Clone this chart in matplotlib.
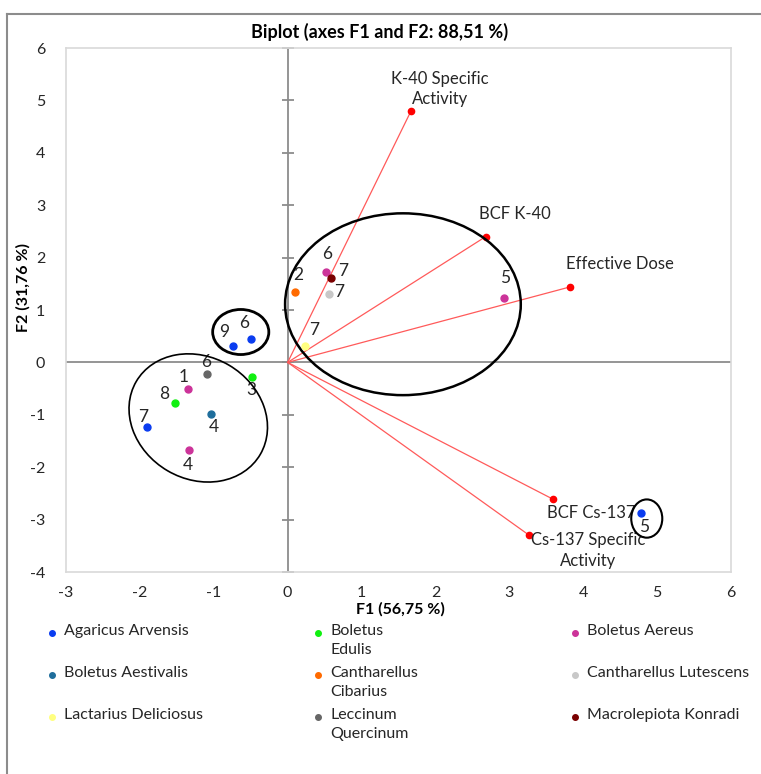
import numpy as np
import matplotlib.pyplot as plt
from matplotlib.patches import Ellipse
from matplotlib.lines import Line2D

plt.rcParams['font.family'] = ['Lato', 'DejaVu Sans']
plt.rcParams['axes.unicode_minus'] = False

# species (legend order) and their colours
species = ['Agaricus Arvensis', 'Boletus\nEdulis', 'Boletus Aereus',
           'Boletus Aestivalis', 'Cantharellus\nCibarius', 'Cantharellus Lutescens',
           'Lactarius Deliciosus', 'Leccinum\nQuercinum', 'Macrolepiota Konradi']
colors = ['#0A3CF0', '#10F010', '#CC3399',
          '#1F6E9C', '#FF6A00', '#C8C8C8',
          '#FFFF80', '#666666', '#7A0000']

# observations (F1, F2 scores)
obs_species = [0, 0, 0, 0, 1, 1, 2, 2, 2, 2, 3, 4, 5, 6, 7, 8]
obs_label = ['9', '6', '7', '5', '3', '8', '1', '4', '6', '5', '4', '2', '7', '7', '6', '7']
obs_f1 = [-0.74, -0.49, -1.91, 4.78, -0.48, -1.53, -1.35, -1.33, 0.52, 2.93,
          -1.04, 0.10, 0.56, 0.23, -1.09, 0.58]
obs_f2 = [0.32, 0.44, -1.24, -2.87, -0.28, -0.77, -0.50, -1.67, 1.72, 1.22,
          -0.99, 1.35, 1.30, 0.31, -0.22, 1.62]

# variables (loadings)
var_names = ['K-40 Specific\nActivity', 'BCF K-40', 'Effective Dose',
             'BCF Cs-137', 'Cs-137 Specific\nActivity']
var_f1 = [1.67, 2.68, 3.82, 3.59, 3.27]
var_f2 = [4.80, 2.40, 1.44, -2.61, -3.30]

# label offsets in pixels (layout only)
obs_offsets = [(-9, 14), (-7, 16), (-3, 10), (3, -14), (-1, -13), (-10, 9),
               (-4, 12), (-2, -15), (1, 18), (1, 20), (3, -13), (3, 17),
               (10, 2), (10, 16), (-1, 12), (13, 7)]
var_offsets = [(29, 22), (29, 23), (50, 23), (38, -14), (59, -15)]

W, H = 761, 774
fig = plt.figure(figsize=(W / 100, H / 100), dpi=100)
ax = fig.add_axes([66 / W, 1 - 572 / H, (731 - 66) / W, (572 - 48) / H])

ax.set_xlim(-3, 6)
ax.set_ylim(-4, 6)
for s in ax.spines.values():
    s.set_color('#D9D9D9')
    s.set_linewidth(1.2)

ax.set_xticks(np.arange(-3, 7))
ax.set_yticks(np.arange(-4, 7))
ax.tick_params(length=0, labelsize=11.5, colors='#262626')
ax.tick_params(axis='x', pad=10)
ax.tick_params(axis='y', pad=15)

# zero axes with cross ticks
ax.axhline(0, color='#8C8C8C', lw=1.3, zorder=1)
ax.axvline(0, color='#8C8C8C', lw=1.3, zorder=1)
yt = np.arange(-4, 7)
ax.plot(np.zeros(len(yt)), yt, ls='none', marker='_', ms=8, mew=1.3,
        color='#8C8C8C', clip_on=False, zorder=1)

# variable vectors
for x, y, name, off in zip(var_f1, var_f2, var_names, var_offsets):
    ax.plot([0, x], [0, y], color='#FF5A5A', lw=0.9, zorder=2)
    ax.plot(x, y, 'o', color='#FF0000', ms=4.5, zorder=3)
    ax.annotate(name, (x, y), xytext=off, textcoords='offset pixels',
                ha='center', va='center', fontsize=12, color='#262626',
                linespacing=1.35)

# observations
for sp, lab, x, y, off in zip(obs_species, obs_label, obs_f1, obs_f2, obs_offsets):
    ax.plot(x, y, 'o', color=colors[sp], ms=5, zorder=4)
    ax.annotate(lab, (x, y), xytext=off, textcoords='offset pixels',
                ha='center', va='center', fontsize=12.5, color='#262626')

# group ellipses
ax.add_patch(Ellipse((1.56, 1.11), 3.19, 3.47, fill=False, ec='black', lw=1.8, zorder=3))
ax.add_patch(Ellipse((-0.635, 0.58), 0.76, 0.86, fill=False, ec='black', lw=2, zorder=3))
ax.add_patch(Ellipse((-1.21, -1.06), 1.83, 2.48, angle=14, fill=False, ec='black', lw=1.2, zorder=3))
ax.add_patch(Ellipse((4.86, -2.98), 0.42, 0.73, fill=False, ec='black', lw=1.5, zorder=3))

# titles
fig.text(380 / W, 1 - 32 / H, 'Biplot (axes F1 and F2: 88,51 %)', ha='center', va='center',
         fontsize=13, fontweight='bold', color='black')
fig.text(400 / W, 1 - 609 / H, 'F1 (56,75 %)', ha='center', va='center',
         fontsize=11.5, fontweight='bold', color='black')
fig.text(23 / W, 1 - 288 / H, 'F2 (31,76 %)', ha='center', va='center', rotation=90,
         fontsize=11.5, fontweight='bold', color='black')

# legend, three columns laid out row by row
col_x = [52, 318, 575]
row_y = [633, 675, 717]
for i, (name, c) in enumerate(zip(species, colors)):
    px, py = col_x[i % 3], row_y[i // 3]
    fig.add_artist(Line2D([px / W], [1 - py / H], marker='o', ms=4, color=c,
                          ls='none', transform=fig.transFigure))
    fig.text((px + 12) / W, 1 - (py - 9) / H, name, ha='left', va='top',
             fontsize=11.5, color='#262626', linespacing=1.45)

# outer chart frame
fig.add_artist(Line2D([7 / W, 1], [1 - 13.5 / H, 1 - 13.5 / H], color='#8C8C8C', lw=1.5,
                      transform=fig.transFigure))
fig.add_artist(Line2D([7 / W, 7 / W], [0, 1 - 13.5 / H], color='#8C8C8C', lw=1.5,
                      transform=fig.transFigure))

fig.savefig('out.png', dpi=100)
